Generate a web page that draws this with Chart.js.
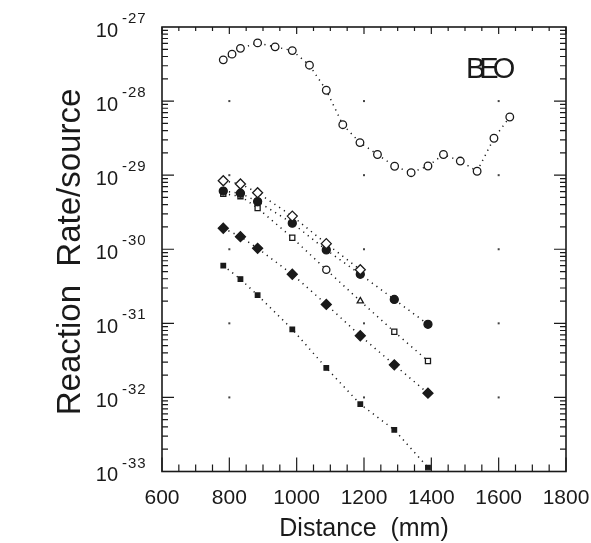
<!DOCTYPE html>
<html>
<head>
<meta charset="utf-8">
<script src="https://cdn.jsdelivr.net/npm/chart.js@4/dist/chart.umd.min.js"></script>
<style>
  html, body { margin: 0; padding: 0; background: #fff; }
  canvas { display: block; }
</style>
</head>
<body>
<canvas id="chart" width="591" height="543"></canvas>
<script>
// BEO curve (open circles)
const topDist = [782, 808, 833, 884, 936, 987, 1038, 1088, 1137, 1188, 1240, 1291, 1340, 1390, 1436, 1486, 1536, 1586, 1633];
const topRate = [3.6e-28, 4.3e-28, 5.15e-28, 6.1e-28, 5.4e-28, 4.8e-28, 3.05e-28, 1.4e-28, 4.8e-29, 2.75e-29,
                 1.9e-29, 1.32e-29, 1.08e-29, 1.33e-29, 1.9e-29, 1.55e-29, 1.13e-29, 3.15e-29, 6.1e-29];

// lower families
const lowerDist = [782, 833, 884, 987, 1088, 1189, 1290, 1390];
const openDiamond = [8.4e-30, 7.6e-30, 5.8e-30, 2.8e-30, 1.19e-30, 5.3e-31];
const filledCircle = [6.1e-30, 5.7e-30, 4.4e-30, 2.25e-30, 9.8e-31, 4.6e-31, 2.1e-31, 9.7e-32];
const openSquare = [5.6e-30, 5.2e-30, 3.6e-30, 1.43e-30, 5.3e-31, 2.0e-31, 7.7e-32, 3.1e-32];
const filledDiamond = [1.92e-30, 1.48e-30, 1.03e-30, 4.6e-31, 1.8e-31, 6.8e-32, 2.75e-32, 1.14e-32];
const filledSquare = [6.0e-31, 3.95e-31, 2.4e-31, 8.3e-32, 2.5e-32, 8.1e-33, 3.65e-33, 1.13e-33];

const xTickLabels = [600, 800, 1000, 1200, 1400, 1600, 1800];
const yTickExponents = [-27, -28, -29, -30, -31, -32, -33];
const gridDotX = [800, 1200, 1600];

const FONT = "'Liberation Sans', Arial, Helvetica, sans-serif";
const INK = "#1a1a1a";

function pairs(xs, ys) {
    return ys.map(function (v, i) { return { x: xs[i], y: v }; });
}

function series(data, style, radius, filled) {
    return {
        data: data,
        showLine: true,
        borderColor: INK,
        borderWidth: 1.5,
        borderDash: [1.2, 4.5],
        pointStyle: style,
        pointRadius: radius,
        pointBorderWidth: 1.3,
        pointBorderColor: INK,
        pointBackgroundColor: filled ? INK : "#fff",
        tension: 0,
        fill: false,
    };
}

const decor = {
    id: "decor",
    beforeDatasetsDraw(chart) {
        const ctx = chart.ctx, xs = chart.scales.x, ys = chart.scales.y;
        ctx.save();
        ctx.fillStyle = "#444";
        gridDotX.forEach(function (d) {
            yTickExponents.slice(1, -1).forEach(function (e) {
                ctx.fillRect(xs.getPixelForValue(d) - 1, ys.getPixelForValue(Math.pow(10, e)) - 1, 2, 2);
            });
        });
        ctx.restore();
    },
    afterDraw(chart) {
        const ctx = chart.ctx, a = chart.chartArea;
        const xs = chart.scales.x, ys = chart.scales.y;
        ctx.save();
        ctx.strokeStyle = INK;
        ctx.lineWidth = 1.6;
        ctx.strokeRect(a.left, a.top, a.right - a.left, a.bottom - a.top);

        ctx.lineWidth = 1.2;
        ctx.beginPath();
        for (let d = 600; d <= 1800; d += 50) {
            const px = xs.getPixelForValue(d);
            const major = d % 200 === 0;
            ctx.moveTo(px, a.bottom);
            ctx.lineTo(px, a.bottom - (major ? 14 : 7));
            ctx.moveTo(px, a.top);
            ctx.lineTo(px, a.top + (major ? 7 : 4));
        }
        for (let e = -33; e < -27; e++) {
            for (let m = 1; m <= 9; m++) {
                const py = ys.getPixelForValue(m * Math.pow(10, e));
                const len = m === 1 ? 12 : 6;
                ctx.moveTo(a.left, py);
                ctx.lineTo(a.left + len, py);
                ctx.moveTo(a.right, py);
                ctx.lineTo(a.right - len, py);
            }
        }
        ctx.stroke();

        // y tick labels 10^n
        ctx.fillStyle = INK;
        yTickExponents.forEach(function (e) {
            const py = ys.getPixelForValue(Math.pow(10, e));
            ctx.font = "20px " + FONT;
            ctx.textAlign = "right";
            ctx.textBaseline = "middle";
            ctx.fillText("10", 118, py + 4);
            ctx.font = "15px " + FONT;
            ctx.textAlign = "left";
            ctx.letterSpacing = "1px";
            ctx.fillText(String(e), 122, py - 8);
            ctx.letterSpacing = "0px";
        });

        // y axis title
        ctx.save();
        ctx.translate(80, 252);
        ctx.rotate(-Math.PI / 2);
        ctx.font = "33px " + FONT;
        ctx.textAlign = "center";
        ctx.textBaseline = "alphabetic";
        ctx.fillText("Reaction  Rate/source", 0, 0);
        ctx.restore();

        // panel label
        ctx.font = "29px " + FONT;
        ctx.textAlign = "left";
        ctx.textBaseline = "alphabetic";
        ctx.letterSpacing = "-6px";
        ctx.fillText("BEO", 466, 78);
        ctx.letterSpacing = "0px";
        ctx.restore();
    }
};

new Chart(document.getElementById("chart"), {
    type: "scatter",
    data: {
        datasets: [
            series(pairs(topDist, topRate), "circle", 3.8, false),
            series(pairs(lowerDist, openDiamond), "rectRot", 5, false),
            series(pairs(lowerDist, filledCircle), "circle", 4, true),
            Object.assign(series(pairs(lowerDist, openSquare), "rect", 3.6, false), {
                pointStyle: ["rect", "rect", "rect", "rect", "circle", "triangle", "rect", "rect"],
            }),
            series(pairs(lowerDist, filledDiamond), "rectRot", 5, true),
            series(pairs(lowerDist, filledSquare), "rect", 3.2, true),
        ],
    },
    options: {
        responsive: false,
        animation: false,
        devicePixelRatio: 1,
        layout: { padding: { left: 0, top: 27, right: 25, bottom: 0 } },
        plugins: {
            legend: { display: false },
            tooltip: { enabled: false },
        },
        scales: {
            x: {
                type: "linear",
                min: 600,
                max: 1800,
                grid: { display: false, drawTicks: false },
                border: { display: false },
                ticks: {
                    stepSize: 200,
                    autoSkip: false,
                    maxRotation: 0,
                    padding: 14,
                    color: INK,
                    font: { family: FONT, size: 21 },
                    callback: function (v) {
                        return xTickLabels.indexOf(v) >= 0 ? String(v) : "";
                    },
                },
                title: {
                    display: true,
                    text: "Distance  (mm)",
                    color: INK,
                    font: { family: FONT, size: 25, lineHeight: 1 },
                    padding: { top: 0, bottom: 1 },
                },
                afterFit: function (s) {
                    s.height = 71.5;
                    s.paddingLeft = 0;
                    s.paddingRight = 0;
                },
            },
            y: {
                type: "logarithmic",
                min: 1e-33,
                max: 1e-27,
                grid: { display: false, drawTicks: false },
                border: { display: false },
                ticks: { display: false },
                afterFit: function (s) { s.width = 162; },
            },
        },
    },
    plugins: [decor],
});
</script>
</body>
</html>
